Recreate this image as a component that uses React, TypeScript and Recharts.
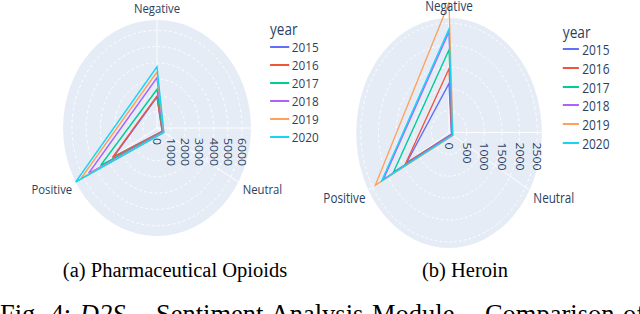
import React from 'react';
import {
  RadarChart, Radar, PolarGrid, PolarAngleAxis, PolarRadiusAxis, Legend,
} from 'recharts';

const sentiments = ['Negative', 'Neutral', 'Positive'];
const years = ['2015', '2016', '2017', '2018', '2019', '2020'];
const yearColors = ['#636EFA', '#EF553B', '#00CC96', '#AB63FA', '#FFA15A', '#19D3F3'];

// one row per year, in sentiment order: Negative, Neutral, Positive
const opioidValues = [
  [1900, 420, 3550],
  [1960, 430, 3630],
  [2370, 480, 4600],
  [3090, 500, 5570],
  [3440, 540, 6200],
  [3760, 560, 6630],
];
const heroinValues = [
  [1120, 80, 1390],
  [1460, 90, 1420],
  [1890, 110, 1820],
  [2300, 100, 2150],
  [2970, 130, 2410],
  [2367, 120, 2200],
];
const opioidTicks = [0, 1000, 2000, 3000, 4000, 5000, 6000];
const heroinTicks = [0, 500, 1000, 1500, 2000, 2500];

const plotFont = "'Open Sans', sans-serif";
const inkColor = '#2a3f5f';
const paperFont = "'Times New Roman', 'Liberation Serif', serif";

function buildRows(values: number[][]) {
  return sentiments.map((s, i) => {
    const row: Record<string, string | number> = { sentiment: s };
    years.forEach((y, j) => { row[y] = values[j][i]; });
    return row;
  });
}

interface LegendLayout {
  x: number; titleY: number; firstY: number; step: number;
  size: number; titleSize: number; lineW: number; gap: number;
}

function YearLegend({ payload, layout }: { payload?: any[]; layout: LegendLayout }) {
  const items = payload ?? [];
  return (
    <div style={{ position: 'relative', fontFamily: plotFont, color: inkColor }}>
      <div style={{
        position: 'absolute', left: 0, top: layout.titleY - layout.titleSize * 0.7,
        fontSize: layout.titleSize, lineHeight: `${layout.titleSize * 1.4}px`, whiteSpace: 'nowrap',
      }}>year</div>
      {items.map((entry, i) => (
        <div key={entry.value} style={{
          position: 'absolute', left: 0, top: layout.firstY + i * layout.step - 10,
          height: 20, display: 'flex', alignItems: 'center', whiteSpace: 'nowrap',
          fontSize: layout.size,
        }}>
          <span style={{
            display: 'inline-block', width: layout.lineW, height: 2,
            background: entry.color ?? yearColors[i], marginRight: layout.gap,
          }} />
          <span>{entry.value}</span>
        </div>
      ))}
    </div>
  );
}

interface PanelProps {
  values: number[][];
  ticks: number[];
  maxValue: number;
  screenCx: number;
  cy: number;
  radius: number;
  squeeze: number;
  labelSize: number;
  legend: LegendLayout;
}

function RadarPanel({ values, ticks, maxValue, screenCx, cy, radius, squeeze, labelSize, legend }: PanelProps) {
  const cx = 160;
  const width = 400;
  const height = 260;
  const rows = buildRows(values);

  const angleTick = (props: any) => {
    const { x, y, payload, textAnchor } = props;
    const dy = textAnchor === 'middle' ? -4 : 3;
    const dx = textAnchor === 'end' ? 3 : textAnchor === 'start' ? -2 : 0;
    return (
      <text x={x + dx} y={y + dy} textAnchor={textAnchor} dominantBaseline="central"
        fontSize={labelSize} fontFamily={plotFont} fill={inkColor}>
        {payload.value}
      </text>
    );
  };

  const radiusTick = (props: any) => {
    const { x, y, payload } = props;
    const ty = y + 10;
    return (
      <text x={x} y={ty} transform={`rotate(90 ${x} ${ty})`} textAnchor="start"
        dominantBaseline="central" fontSize={12.3} fontFamily={plotFont} fill={inkColor}>
        {payload.value}
      </text>
    );
  };

  return (
    <div style={{
      position: 'absolute', left: screenCx - cx, top: 0, width, height,
      transform: `scaleX(${squeeze})`, transformOrigin: `${cx}px ${cy}px`,
    }}>
      <div style={{
        position: 'absolute', left: cx - radius, top: cy - radius,
        width: radius * 2, height: radius * 2, borderRadius: '50%', background: '#E5ECF6',
      }} />
      <div style={{ position: 'absolute', left: 0, top: 0 }}>
        <RadarChart width={width} height={height} data={rows} cx={cx} cy={cy}
          outerRadius={radius} startAngle={90} endAngle={-270}
          margin={{ top: 0, right: 0, bottom: 0, left: 0 }}>
          <PolarGrid gridType="circle" radialLines={false} polarAngles={[]}
            stroke="#ffffff" strokeDasharray="3 3" strokeWidth={1} />
          <PolarGrid gridType="circle" polarRadius={[0]} polarAngles={[0, 90, 210, 330]}
            stroke="#ffffff" strokeWidth={1} />
          <PolarAngleAxis dataKey="sentiment" axisLine={false} tickLine={false} tick={angleTick} />
          <PolarRadiusAxis angle={0} type="number" domain={[0, maxValue]} ticks={ticks}
            allowDataOverflow axisLine={false} tickLine={false} tick={radiusTick} />
          {years.map((y, i) => (
            <Radar key={y} name={y} dataKey={y} stroke={yearColors[i]} strokeWidth={1.6}
              fill="none" fillOpacity={0} dot={false} isAnimationActive={false} />
          ))}
          <Legend
            content={(p: any) => <YearLegend payload={p.payload} layout={legend} />}
            wrapperStyle={{ left: legend.x, top: 0, width: 90, height: 160 }}
          />
        </RadarChart>
      </div>
    </div>
  );
}

export default function App() {
  return (
    <div style={{
      position: 'absolute', left: 0, top: 0, width: 640, height: 314,
      overflow: 'hidden', background: '#ffffff',
    }}>
      <RadarPanel
        values={opioidValues} ticks={opioidTicks} maxValue={6630}
        screenCx={157} cy={128} radius={108} squeeze={0.87} labelSize={13}
        legend={{ x: 290, titleY: 30, firstY: 47, step: 18, size: 13.5, titleSize: 15.5, lineW: 22, gap: 3 }}
      />
      <RadarPanel
        values={heroinValues} ticks={heroinTicks} maxValue={2630}
        screenCx={449} cy={132.5} radius={115} squeeze={0.807} labelSize={14.5}
        legend={{ x: 301, titleY: 31.7, firstY: 49, step: 18.8, size: 14.8, titleSize: 17, lineW: 20, gap: 4 }}
      />
      <div style={{
        position: 'absolute', left: 175 - 200, width: 400, top: 260, textAlign: 'center',
        fontFamily: paperFont, fontSize: 20.5, lineHeight: '20.5px', color: '#000',
      }}>(a) Pharmaceutical Opioids</div>
      <div style={{
        position: 'absolute', left: 465 - 200, width: 400, top: 260, textAlign: 'center',
        fontFamily: paperFont, fontSize: 20.5, lineHeight: '20.5px', color: '#000',
      }}>(b) Heroin</div>
      <div style={{
        position: 'absolute', left: 0, top: 301, whiteSpace: 'nowrap', wordSpacing: 2,
        fontFamily: paperFont, fontSize: 26.5, lineHeight: '26.5px', color: '#000',
      }}>
        Fig. 4: <i>D2S</i> – Sentiment Analysis Module – Comparison of
      </div>
    </div>
  );
}
